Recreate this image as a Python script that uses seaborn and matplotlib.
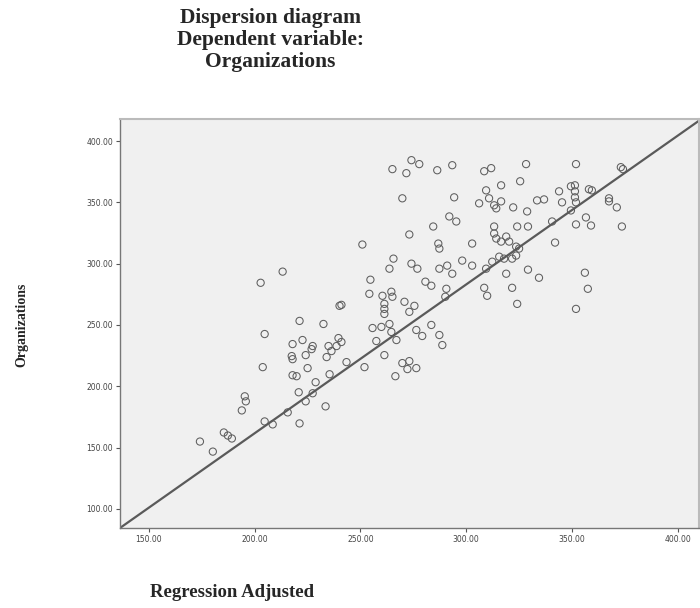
import numpy as np
import pandas as pd
import matplotlib
matplotlib.use("Agg")
import matplotlib.pyplot as plt
import seaborn as sns

# values (x = regression adjusted, y = organizations)
regression_adjusted = [
    174.1, 180.2, 185.4, 187.3, 189.2, 193.9, 195.3, 195.8, 213.2, 202.8,
    240.1, 221.2, 232.5, 204.7, 217.9, 222.6, 227.4, 226.9, 224.1, 217.5,
    217.9, 234.9, 236.3, 234.0, 239.6, 241.0, 238.7, 243.4, 203.8, 225.0,
    217.9, 219.8, 235.4, 228.8, 220.8, 227.4, 224.1, 233.5, 215.6, 204.7,
    208.5, 221.2, 274.1, 277.8, 265.1, 271.7, 286.3, 293.4, 308.5, 311.8,
    269.8, 294.3, 309.4, 316.5, 306.1, 310.8, 313.2, 316.5, 314.2, 292.0,
    295.3, 284.4, 273.1, 250.9, 286.8, 287.3, 302.8, 313.2, 313.2, 314.2,
    318.9, 316.5, 265.6, 263.7, 274.1, 276.9, 287.3, 291.0, 293.4, 298.1,
    302.8, 315.6, 312.3, 309.4, 318.9, 254.7, 254.2, 260.4, 264.6, 265.1,
    261.3, 270.8, 275.5, 280.7, 283.5, 290.6, 290.1, 308.5, 309.9, 241.0,
    261.3, 261.3, 273.1, 255.7, 259.9, 257.5, 263.7, 264.6, 267.0, 276.4,
    279.2, 283.5, 287.3, 288.7, 261.3, 251.9, 269.8, 273.1, 272.2, 276.4,
    266.5, 328.3, 351.9, 373.1, 374.1, 325.5, 343.9, 349.5, 351.4, 358.0,
    359.4, 351.4, 351.4, 351.9, 349.5, 333.5, 336.8, 345.3, 367.5, 367.5,
    371.2, 322.2, 328.8, 356.6, 359.0, 351.9, 340.6, 373.6, 324.1, 329.2,
    320.3, 323.6, 325.0, 342.0, 321.7, 323.6, 317.9, 329.2, 334.4, 321.7,
    356.1, 357.5, 324.1, 351.9,
]
organizations = [
    154.9, 146.7, 162.3, 159.8, 157.4, 180.3, 191.8, 187.7, 293.5, 284.4,
    265.6, 253.3, 250.8, 242.6, 234.4, 237.7, 232.8, 230.3, 225.4, 224.6,
    222.1, 232.8, 228.7, 223.8, 239.3, 236.1, 232.8, 219.7, 215.6, 214.8,
    209.0, 208.2, 209.8, 203.3, 195.1, 194.3, 187.7, 183.6, 178.7, 171.3,
    168.9, 169.7, 384.4, 381.2, 377.1, 373.8, 376.2, 380.3, 375.4, 377.9,
    353.3, 354.1, 359.8, 363.9, 349.2, 353.3, 347.6, 350.8, 345.1, 338.5,
    334.4, 330.3, 323.8, 315.6, 316.4, 312.3, 316.4, 330.3, 324.6, 320.5,
    322.1, 318.0, 304.1, 295.9, 300.0, 295.9, 295.9, 298.4, 291.8, 302.5,
    298.4, 305.7, 301.6, 295.9, 291.8, 286.9, 275.4, 273.8, 277.1, 273.0,
    267.2, 268.9, 265.6, 285.3, 282.0, 279.5, 273.0, 280.3, 273.8, 266.4,
    263.1, 259.0, 260.7, 247.5, 248.4, 236.9, 250.8, 244.3, 237.7, 245.9,
    241.0, 250.0, 241.8, 233.6, 225.4, 215.6, 218.9, 220.5, 214.0, 214.8,
    208.2, 381.2, 381.2, 378.7, 377.1, 367.2, 359.0, 363.1, 363.9, 360.7,
    359.8, 359.0, 354.1, 350.0, 343.4, 351.6, 352.4, 350.0, 353.3, 350.8,
    345.9, 345.9, 342.6, 337.7, 331.1, 332.0, 334.4, 330.3, 330.3, 330.3,
    318.0, 313.9, 312.3, 317.2, 304.1, 306.6, 304.1, 295.1, 288.5, 280.3,
    292.6, 279.5, 267.2, 263.1,
]
# fit line as drawn
line_intercept = -81.0
line_slope = 1.2135

x_ticks = [150, 200, 250, 300, 350, 400]
y_ticks = [100, 150, 200, 250, 300, 350, 400]

df = pd.DataFrame({"x": regression_adjusted, "y": organizations})

sns.set_style("white")
fig = plt.figure(figsize=(7, 6.08), dpi=100)
ax = fig.add_axes([0.1714, 0.1316, 0.827, 0.6727])
ax.set_facecolor("#f0f0f0")

pts = sns.scatterplot(data=df, x="x", y="y", ax=ax, s=27, marker="o",
                      linewidth=0.75, edgecolor="#5e5e5e", legend=False)
pts.collections[0].set_facecolor("none")
pts.collections[0].set_edgecolor("#5e5e5e")

ax.axline((0, line_intercept), slope=line_slope, color="#5a5a5a", lw=1.6, zorder=1)

ax.set_xlim(136.3, 410)
ax.set_ylim(84.4, 418)
ax.set_xticks(x_ticks)
ax.set_yticks(y_ticks)
ax.set_xticklabels([f"{v:.2f}" for v in x_ticks])
ax.set_yticklabels([f"{v:.2f}" for v in y_ticks])
ax.tick_params(axis="both", length=3, width=0.8, color="#555555",
               labelsize=5.5, labelcolor="#444444", direction="out", pad=2)
ax.tick_params(axis="x", bottom=True)
ax.tick_params(axis="y", left=True)
for side in ["left", "bottom"]:
    ax.spines[side].set_color("#777777")
    ax.spines[side].set_linewidth(1.0)
for side in ["top", "right"]:
    ax.spines[side].set_color("#bbbbbb")
    ax.spines[side].set_linewidth(1.5)
ax.set_xlabel("")
ax.set_ylabel("")

serif = ["Liberation Serif", "DejaVu Serif"]
fig.text(0.386, 0.987, "Dispersion diagram\nDependent variable:\nOrganizations",
         ha="center", va="top", fontsize=15.5, fontweight="bold", family=serif,
         linespacing=1.12)
fig.text(0.031, 0.465, "Organizations", rotation=90, ha="center", va="center",
         fontsize=10, fontweight="bold", family=serif)
fig.text(0.331, 0.026, "Regression Adjusted", ha="center", va="center",
         fontsize=13.5, fontweight="bold", family=serif)

fig.savefig("out.png", dpi=100)
